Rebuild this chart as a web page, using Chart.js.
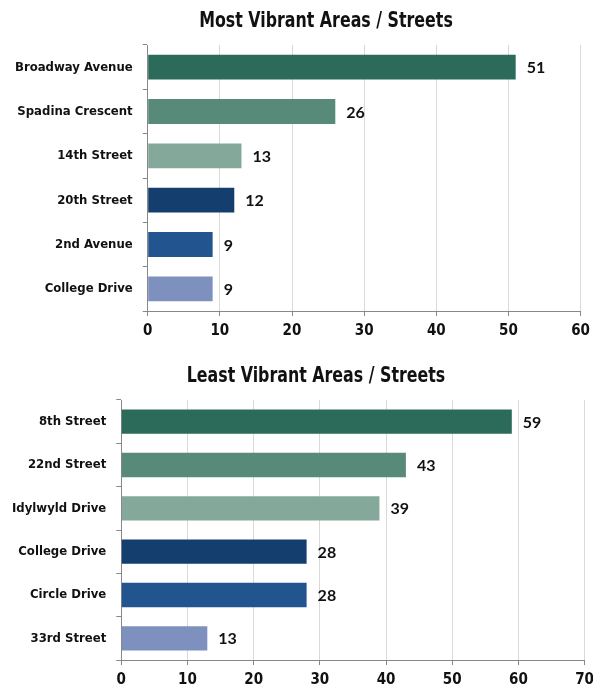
<!DOCTYPE html>
<html>
<head>
<meta charset="utf-8">
<script src="https://cdn.jsdelivr.net/npm/chart.js@4"></script>
<style>
  body { margin: 0; background: #fff; overflow: hidden; }
  .box { position: absolute; left: 0; }
  #top { top: 0; width: 596px; height: 352px; }
  #bottom { top: 355px; width: 600px; height: 341px; }
  .title {
    position: absolute; white-space: nowrap; color: #111;
    font: bold 22px 'DejaVu Sans Condensed', sans-serif;
    transform: translateX(-50%) scaleX(0.8);
    transform-origin: center;
  }
</style>
</head>
<body>
<div class="box" id="top"><canvas id="mostChart"></canvas></div>
<div class="box" id="bottom"><canvas id="leastChart"></canvas></div>
<div class="title" style="left:326px; top:7px;">Most Vibrant Areas / Streets</div>
<div class="title" style="left:316px; top:362px;">Least Vibrant Areas / Streets</div>
<script>
const mostLabels = ["Broadway Avenue", "Spadina Crescent", "14th Street", "20th Street", "2nd Avenue", "College Drive"];
const mostValues = [51, 26, 13, 12, 9, 9];
const leastLabels = ["8th Street", "22nd Street", "Idylwyld Drive", "College Drive", "Circle Drive", "33rd Street"];
const leastValues = [59, 43, 39, 28, 28, 13];
const barColors = ["#2c6a5a", "#578a79", "#84a99b", "#133e6d", "#22548f", "#7e90be"];

const condensed = "'DejaVu Sans Condensed', sans-serif";

const valueLabels = {
  id: "valueLabels",
  afterDatasetsDraw(chart) {
    const ctx = chart.ctx;
    const meta = chart.getDatasetMeta(0);
    ctx.save();
    ctx.font = "bold 16px Lato, sans-serif";
    ctx.fillStyle = "#111";
    ctx.textBaseline = "middle";
    meta.data.forEach((bar, i) => {
      ctx.fillText(chart.data.datasets[0].data[i], bar.x + 11, bar.y + 1);
    });
    ctx.restore();
  }
};

function makeChart(id, labels, values, max, pad) {
  return new Chart(document.getElementById(id), {
    type: "bar",
    data: {
      labels: labels,
      datasets: [{
        data: values,
        backgroundColor: barColors,
        barPercentage: 0.56,
        categoryPercentage: 1
      }]
    },
    options: {
      indexAxis: "y",
      responsive: true,
      maintainAspectRatio: false,
      animation: false,
      layout: { padding: pad },
      scales: {
        x: {
          min: 0,
          max: max,
          ticks: { stepSize: 10, color: "#111", font: { family: condensed, size: 15, weight: "bold" }, padding: 6 },
          grid: { color: "#d9d9d9", tickLength: 5, tickColor: "#888" },
          border: { color: "#888" }
        },
        y: {
          ticks: { color: "#111", font: { family: condensed, size: 13, weight: "bold" }, padding: 10 },
          grid: { drawOnChartArea: false, tickLength: 5, color: "#888" },
          border: { color: "#888" }
        }
      },
      plugins: {
        legend: { display: false },
        tooltip: { enabled: false }
      }
    },
    plugins: [valueLabels]
  });
}

makeChart("mostChart", mostLabels, mostValues, 60, { left: 5, right: 0, top: 45, bottom: 6 });
makeChart("leastChart", leastLabels, leastValues, 70, { left: 2, right: 0, top: 45, bottom: 1 });
</script>
</body>
</html>
